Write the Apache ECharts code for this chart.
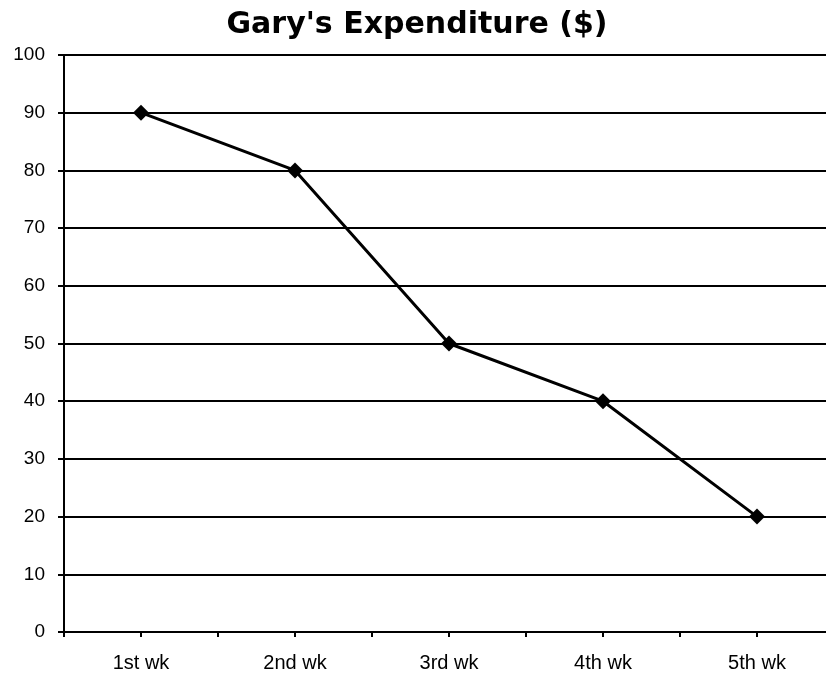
<!DOCTYPE html>
<html>
<head>
<meta charset="utf-8">
<script src="https://cdn.jsdelivr.net/npm/echarts@6/dist/echarts.min.js"></script>
<style>
  html, body { margin: 0; padding: 0; background: #fff; overflow: hidden; }
  /* a bit wider than the window: the gridlines run off the right edge */
  #chart { width: 840px; height: 677px; }
</style>
</head>
<body>
<div id="chart"></div>
<script>
const weeks = ["1st wk", "2nd wk", "3rd wk", "4th wk", "5th wk"];
const spending = [90, 80, 50, 40, 20];
const yTicks = { min: 0, max: 100, interval: 10 };

const chart = echarts.init(document.getElementById("chart"));

const labelFont = { color: "#000", fontFamily: "Liberation Sans" };
const tickStyle = { color: "#000", width: 2 };

chart.setOption({
  animation: false,
  title: {
    text: "Gary's Expenditure ($)",
    left: 412,
    textAlign: "center",
    top: 5,
    textStyle: { fontFamily: "DejaVu Sans", fontWeight: "bold", fontSize: 30, color: "#000" },
  },
  grid: { left: 64, right: 6, top: 55, bottom: 45, containLabel: false },
  xAxis: [
    {
      type: "category",
      data: weeks,
      boundaryGap: true,
      axisLine: { lineStyle: { color: "#000", width: 2 } },
      axisTick: { show: true, length: 5, lineStyle: tickStyle },
      axisLabel: { ...labelFont, fontSize: 20, margin: 21 },
    },
    {
      // extra ticks under each category centre
      type: "category",
      data: weeks,
      position: "bottom",
      boundaryGap: true,
      axisLine: { show: false },
      axisTick: { show: true, alignWithLabel: true, length: 5, lineStyle: tickStyle },
      axisLabel: { show: false },
    },
  ],
  yAxis: {
    type: "value",
    min: yTicks.min,
    max: yTicks.max,
    interval: yTicks.interval,
    axisLine: { show: true, lineStyle: { color: "#000", width: 2 } },
    axisTick: { show: true, length: 6, lineStyle: tickStyle },
    axisLabel: { ...labelFont, fontSize: 19, margin: 19 },
    splitLine: { lineStyle: { color: "#000", width: 2 } },
  },
  series: [
    {
      type: "line",
      data: spending,
      symbol: "diamond",
      symbolSize: 16,
      lineStyle: { color: "#000", width: 3 },
      itemStyle: { color: "#000" },
    },
  ],
});
</script>
</body>
</html>
